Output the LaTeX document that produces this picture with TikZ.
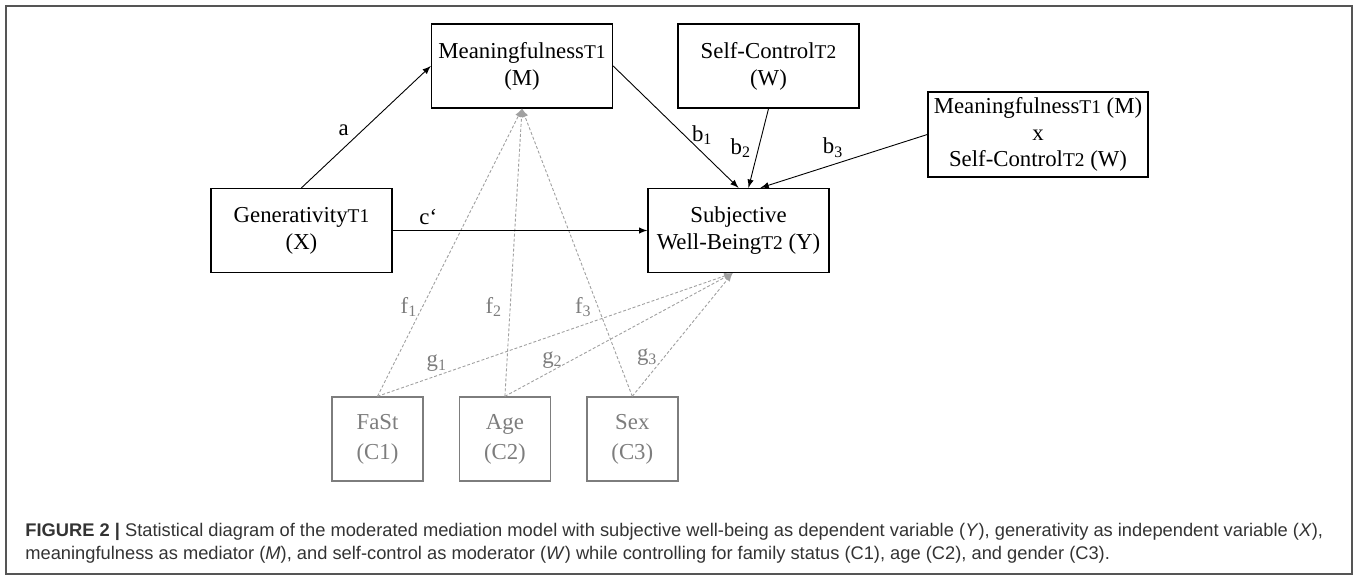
\documentclass[tikz,border=0pt]{standalone}
\usepackage{fontspec}
\setmainfont{Liberation Serif}
\newfontfamily\capfont{Liberation Sans}
\usepackage{tikz}
\usetikzlibrary{positioning}
\definecolor{covgray}{RGB}{125,125,125}
\definecolor{linegray}{RGB}{160,160,160}
\definecolor{framegray}{RGB}{85,85,85}
\newcommand{\wave}[1]{{\fontsize{9.7}{11}\selectfont #1}}

\begin{document}
\begin{tikzpicture}[
    x=0.5pt, y=-0.5pt,
    node distance=17.5pt and 17.5pt,
    var/.style={draw,line width=0.7pt,minimum width=90.5pt,minimum height=42pt,align=center,inner sep=1pt,font=\fontsize{11.4}{13.5}\selectfont},
    cov/.style={var,draw=covgray,text=covgray,minimum width=45.5pt,font=\fontsize{11.4}{15}\selectfont},
    effect/.style={-latex,line width=0.45pt},
    ctrl/.style={-latex,draw=linegray,dash pattern=on 1.5pt off 1pt,line width=0.45pt},
    lab/.style={font=\fontsize{11.4}{13}\selectfont,inner sep=1pt},
    glab/.style={lab,text=covgray}
    ]

    \useasboundingbox (0,0) rectangle (1357,575);
    \draw[framegray,line width=0.8pt] (6,6) rectangle (1352,574);

    \node[var] (gen) at (301.5,230.5) {Generativity\wave{T1}\\(X)};
    \node[var] (mean) at (522,66) {Meaningfulness\wave{T1}\\(M)};
    \node[var] (sc) at (768.5,66) {Self-Control\wave{T2}\\(W)};
    \node[var,minimum width=110pt,minimum height=42.5pt,font=\fontsize{11.4}{13.25}\selectfont] (int) at (1038,134.5) {Meaningfulness\wave{T1} (M)\\x\\Self-Control\wave{T2} (W)};
    \node[var] (swb) at (738.5,230.5) {Subjective\\Well-Being\wave{T2} (Y)};

    \node[cov] (fast) at (377.5,439) {FaSt\\(C1)};
    \node[cov, right=of fast] (age) {Age\\(C2)};
    \node[cov, right=of age] (sex) {Sex\\(C3)};

    % controls
    \path (fast.north) edge[ctrl] node[glab,pos=.31,left=1.3pt] {f\textsubscript{1}} (mean.south)
    (age.north) edge[ctrl] node[glab,pos=.31,left=2.8pt] {f\textsubscript{2}} (mean.south)
    (sex.north) edge[ctrl] node[glab,pos=.31,left=2pt] {f\textsubscript{3}} (mean.south)

    (fast.north) edge[ctrl] node[glab,pos=.167,above=0.7pt] {g\textsubscript{1}} ([xshift=-3pt]swb.south)
    (age.north) edge[ctrl] node[glab,pos=.209,above=0pt] {g\textsubscript{2}} ([xshift=-3pt]swb.south)
    (sex.north) edge[ctrl] node[glab,pos=.315,left=2pt] {g\textsubscript{3}} ([xshift=-3pt]swb.south)
    ;

    \path (gen.north) edge[effect] node[lab,pos=.47,left=5.5pt] {a} (mean.west)
    (gen.east) edge[effect] node[lab,pos=.14,above=1.5pt] {c‘} (swb.west)
    (mean.east) edge[effect] node[lab,pos=.57,right=2.5pt] {b\textsubscript{1}} (swb.north)
    (sc.south) edge[effect] node[lab,pos=.5,left=2.5pt] {b\textsubscript{2}} ([xshift=5pt]swb.north)
    (int.west) edge[effect] node[lab,pos=.565,above=2.5pt] {b\textsubscript{3}} ([xshift=11pt]swb.north)
    ;

    \node[anchor=west,align=left,inner sep=0pt,text=black!80,font=\capfont\fontsize{9.15}{11.5}\selectfont] (cap) at (25,543.5)
    {{\bfseries FIGURE 2 |} Statistical diagram of the moderated mediation model with subjective well-being as dependent variable (\textit{Y}), generativity as independent variable (\textit{X}),\\
    meaningfulness as mediator (\textit{M}), and self-control as moderator (\textit{W}) while controlling for family status (C1), age (C2), and gender (C3).};

\end{tikzpicture}
\end{document}
